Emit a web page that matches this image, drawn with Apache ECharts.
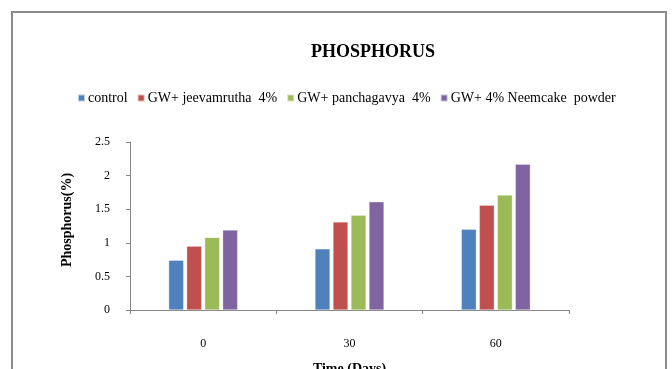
<!DOCTYPE html>
<html><head><meta charset="utf-8">
<script src="https://cdn.jsdelivr.net/npm/echarts@6/dist/echarts.min.js"></script>
<style>html,body{margin:0;padding:0;background:#fff}#c{width:672px;height:369px}</style>
</head><body><div id="c"></div>
<script>
const categories = ['0', '30', '60'];
const seriesNames = ['control', 'GW+ jeevamrutha  4%', 'GW+ panchagavya  4%', 'GW+ 4% Neemcake  powder'];
const control = [0.74, 0.91, 1.20];
const jeevamrutha = [0.95, 1.31, 1.56];
const panchagavya = [1.08, 1.41, 1.71];
const neemcake = [1.19, 1.61, 2.17];
const yTicks = [0, 0.5, 1, 1.5, 2, 2.5];
const colors = ['#4F81BD', '#C0504D', '#9BBB59', '#8064A2'];
const values = [control, jeevamrutha, panchagavya, neemcake];

const font = 'Liberation Serif';
const chart = echarts.init(document.getElementById('c'), null, {renderer: 'canvas'});
chart.setOption({
  animation: false,
  backgroundColor: '#fff',
  graphic: [{
    type: 'rect', shape: {x: 12, y: 12, width: 654, height: 400},
    style: {fill: 'none', stroke: '#8c8c8c', lineWidth: 2}, z: 100
  }],
  title: {
    text: 'PHOSPHORUS', left: 368, top: 38, textAlign: 'center',
    textStyle: {fontFamily: font, fontSize: 18, fontWeight: 'bold', color: '#000'}
  },
  legend: {
    left: 72, top: 86, itemWidth: 7, itemHeight: 7, itemGap: 9,
    icon: 'rect',
    textStyle: {fontFamily: font, fontSize: 14, color: '#000', padding: [0, 0, 0, -2]},
    data: seriesNames
  },
  grid: {left: 130, right: 103, top: 142, bottom: 59, containLabel: false, outerBoundsMode: 'none'},
  xAxis: {
    type: 'category', data: categories,
    name: 'Time (Days)', nameLocation: 'middle', nameGap: 52,
    nameTextStyle: {fontFamily: font, fontSize: 14, fontWeight: 'bold', color: '#000'},
    axisLine: {lineStyle: {color: '#868686'}},
    axisTick: {show: true, length: 4, lineStyle: {color: '#868686'}},
    axisLabel: {fontFamily: font, fontSize: 12, color: '#000', margin: 28}
  },
  yAxis: {
    type: 'value', min: 0, max: 2.5, interval: 0.5,
    name: 'Phosphorus(%)', nameLocation: 'middle', nameGap: 56, nameRotate: 90,
    nameTextStyle: {fontFamily: font, fontSize: 14, fontWeight: 'bold', color: '#000', padding: [0, 0, 0, 12]},
    axisLine: {show: true, lineStyle: {color: '#868686'}},
    axisTick: {show: true, length: 4, lineStyle: {color: '#868686'}},
    splitLine: {show: false},
    axisLabel: {fontFamily: font, fontSize: 12, color: '#000', margin: 20,
      formatter: v => String(v)}
  },
  series: seriesNames.map((n, i) => ({
    name: n, type: 'bar', data: values[i],
    barWidth: 15, barGap: '20%',
    itemStyle: {color: colors[i], borderColor: 'rgba(255,255,255,0.6)', borderWidth: 0.5}
  }))
});
</script></body></html>
